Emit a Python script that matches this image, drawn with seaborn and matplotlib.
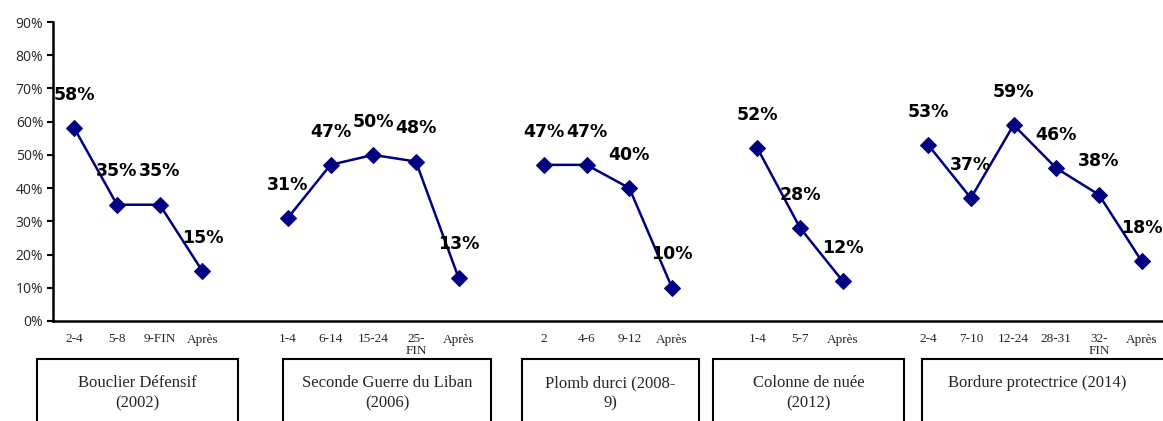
import pandas as pd
import seaborn as sns
import matplotlib.pyplot as plt
from matplotlib.patches import Rectangle

# Data: one list per operation (phases of the operation in days, and share in %)
ops = ['Bouclier Défensif\n(2002)', 'Seconde Guerre du Liban\n(2006)',
       'Plomb durci (2008-\n9)', 'Colonne de nuée\n(2012)', 'Bordure protectrice (2014)']
phases = [
    ['2-4', '5-8', '9-FIN', 'Après'],
    ['1-4', '6-14', '15-24', '25-\nFIN', 'Après'],
    ['2', '4-6', '9-12', 'Après'],
    ['1-4', '5-7', 'Après'],
    ['2-4', '7-10', '12-24', '28-31', '32-\nFIN', 'Après'],
]
values = [
    [58, 35, 35, 15],
    [31, 47, 50, 48, 13],
    [47, 47, 40, 10],
    [52, 28, 12],
    [53, 37, 59, 46, 38, 18],
]

# box extents under each group (in category units) and text centres
box_span = [(-0.87, 3.83), (4.89, 9.76), (10.48, 14.63), (14.96, 19.43), (19.85, 27.0)]
box_text_x = [1.48, 7.33, 12.55, 17.2, 22.55]

# build a long table with categorical positions, one empty slot between groups
rows = []
labels = []
pos = 0
for g, (ph, vals) in enumerate(zip(phases, values)):
    for p, v in zip(ph, vals):
        rows.append({'op': g, 'pos': pos, 'val': v})
        labels.append(p)
        pos += 1
    if g < len(ops) - 1:
        labels.append('')
        pos += 1
df = pd.DataFrame(rows)

sns.set_style('white')
plt.rcParams['font.family'] = ['DejaVu Sans']
navy = '#000080'

fig = plt.figure(figsize=(11.63, 4.21), dpi=100)
ax = fig.add_axes([53 / 1163, 100 / 421, 1 - 53 / 1163, 299 / 421])

for g in range(len(ops)):
    sub = df[df['op'] == g]
    sns.lineplot(data=sub, x='pos', y='val', ax=ax, color=navy, linewidth=1.8,
                 marker='D', markersize=8, markeredgecolor=navy, legend=False)
    for _, r in sub.iterrows():
        ax.annotate(f"{r['val']}%", (r['pos'], r['val']), xytext=(0, 24),
                    textcoords='offset points', ha='center', va='center',
                    fontsize=12.5, fontweight='bold', color='black',
                    annotation_clip=False)

ax.set_xlim(-0.5, len(labels) - 0.5)
ax.set_ylim(0, 90)
ax.set_yticks(range(0, 91, 10))
ax.set_yticklabels([f'{t}%' for t in range(0, 91, 10)], fontsize=10,
                   family='Open Sans')
ax.set_xticks(range(len(labels)))
ax.set_xticklabels(labels, fontsize=9.5, family='Liberation Serif',
                   linespacing=1.0)
ax.set_xticks([i - 0.5 for i in range(len(labels) + 1)], minor=True)
ax.tick_params(axis='x', which='major', length=0, pad=9)
ax.tick_params(axis='x', which='minor', length=4, width=1.5, direction='out',
               color='black')
ax.tick_params(axis='y', length=4, width=1.5, direction='out', color='black',
               left=True, pad=3)
ax.set_xlabel('')
ax.set_ylabel('')
for s in ['top', 'right']:
    ax.spines[s].set_visible(False)
for s in ['left', 'bottom']:
    ax.spines[s].set_color('black')
    ax.spines[s].set_linewidth(1.8)

# operation boxes below the axis (their bottom edge runs off the figure)
for name, (x0, x1), tx in zip(ops, box_span, box_text_x):
    rect = Rectangle((x0, -40), x1 - x0, 28.6, transform=ax.transData,
                     fill=False, edgecolor='black', linewidth=1.5, clip_on=False)
    ax.add_patch(rect)
    ty = -21.7 if '\n' in name else -18.7
    ax.text(tx, ty, name, ha='center', va='center', fontsize=12,
            family='Liberation Serif', linespacing=1.3, clip_on=False)

fig.savefig('out.png', dpi=100)
